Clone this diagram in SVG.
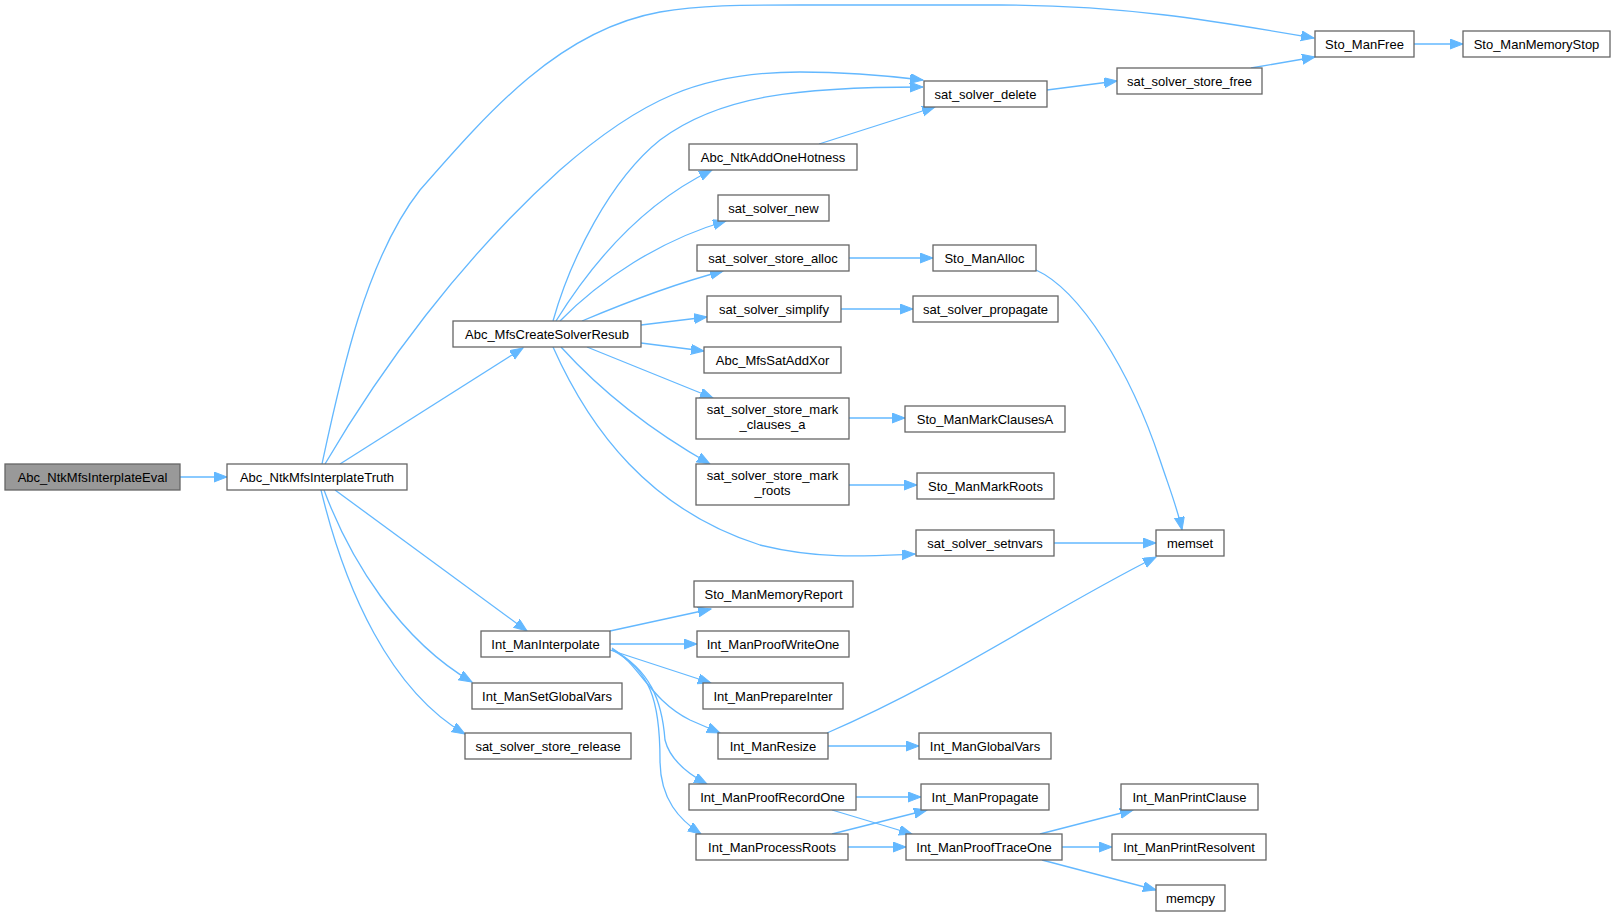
<svg xmlns="http://www.w3.org/2000/svg" width="1615" height="917" viewBox="0 0 1615 917">
<style>
.n rect{fill:#ffffff;stroke:#666666;stroke-width:1.3}
.n.root rect{fill:#999999}
.n text{font-family:"Liberation Sans",Arial,sans-serif;font-size:13px;fill:#000000;text-anchor:middle}
.e path{fill:none;stroke:#63b8ff;stroke-width:1.3;marker-end:url(#ah)}
</style>
<defs>
<marker id="ah" markerUnits="userSpaceOnUse" markerWidth="15" markerHeight="12" refX="13" refY="5" orient="auto">
<path d="M0,0 L13,5 L0,10 z" fill="#63b8ff" stroke="#63b8ff" stroke-width="1"/>
</marker>
</defs>
<rect width="1615" height="917" fill="#ffffff"/>
<g id="edges" class="e">
<path d="M180,477 L227,477"/>
<path d="M322,464 C340,380 365,260 420,190 C490,110 560,30 660,12 C700,5 740,5 800,5 L1000,5 C1120,5 1210,20 1314,38"/>
<path d="M325,464 C380,370 460,260 560,170 C640,100 700,72 800,72 C850,72 890,76 923,80"/>
<path d="M340,464 L523,348"/>
<path d="M335,490 L527,631"/>
<path d="M324,490 C350,560 400,640 472,682"/>
<path d="M321,490 C345,590 390,690 465,734"/>
<path d="M553,321 C570,260 610,180 660,140 C720,95 800,87 923,87"/>
<path d="M556,321 C600,250 650,200 712,170"/>
<path d="M560,321 C600,280 660,240 726,221"/>
<path d="M582,321 C620,305 670,285 723,271"/>
<path d="M641,325 L707,317"/>
<path d="M641,343 L704,351"/>
<path d="M587,347 L713,398"/>
<path d="M561,347 C600,390 650,430 710,464"/>
<path d="M553,347 C590,430 650,510 760,545 C820,560 870,556 915,554"/>
<path d="M819,144 L935,107"/>
<path d="M1047,90 L1117,81"/>
<path d="M1251,68 L1315,57"/>
<path d="M1414,44 L1463,44"/>
<path d="M849,258 L933,258"/>
<path d="M1036,270 C1080,290 1130,370 1160,460 C1170,490 1178,510 1182,530"/>
<path d="M841,309 L913,309"/>
<path d="M849,418 L905,418"/>
<path d="M849,485 L917,485"/>
<path d="M1054,543 L1156,543"/>
<path d="M610,631 L711,609"/>
<path d="M610,644 L697,644"/>
<path d="M610,650 L711,683"/>
<path d="M612,648 C640,665 650,700 690,720 L720,733"/>
<path d="M612,649 C650,670 662,700 665,740 C670,760 690,775 707,784"/>
<path d="M612,650 C650,670 660,700 660,760 C660,800 680,820 701,834"/>
<path d="M827,733 C950,680 1050,610 1156,557"/>
<path d="M828,746 L919,746"/>
<path d="M856,797 L921,797"/>
<path d="M832,810 L912,834"/>
<path d="M832,834 L927,810"/>
<path d="M848,847 L906,847"/>
<path d="M1040,834 L1133,810"/>
<path d="M1062,847 L1112,847"/>
<path d="M1042,860 L1156,890"/>
</g>
<g id="n1" class="n root"><rect x="5" y="464" width="175" height="26"/><text x="92.5" y="481.5">Abc_NtkMfsInterplateEval</text></g>
<g id="n2" class="n"><rect x="227" y="464" width="180" height="26"/><text x="317" y="481.5">Abc_NtkMfsInterplateTruth</text></g>
<g id="n3" class="n"><rect x="453" y="321" width="188" height="26"/><text x="547" y="338.5">Abc_MfsCreateSolverResub</text></g>
<g id="n4" class="n"><rect x="924" y="81" width="123" height="26"/><text x="985.5" y="98.5">sat_solver_delete</text></g>
<g id="n5" class="n"><rect x="1315" y="31" width="99" height="26"/><text x="1364.5" y="48.5">Sto_ManFree</text></g>
<g id="n6" class="n"><rect x="1463" y="31" width="147" height="26"/><text x="1536.5" y="48.5">Sto_ManMemoryStop</text></g>
<g id="n7" class="n"><rect x="1117" y="68" width="145" height="26"/><text x="1189.5" y="85.5">sat_solver_store_free</text></g>
<g id="n8" class="n"><rect x="689" y="144" width="168" height="26"/><text x="773" y="161.5">Abc_NtkAddOneHotness</text></g>
<g id="n9" class="n"><rect x="718" y="195" width="111" height="26"/><text x="773.5" y="212.5">sat_solver_new</text></g>
<g id="n10" class="n"><rect x="697" y="245" width="152" height="26"/><text x="773" y="262.5">sat_solver_store_alloc</text></g>
<g id="n11" class="n"><rect x="933" y="245" width="103" height="26"/><text x="984.5" y="262.5">Sto_ManAlloc</text></g>
<g id="n12" class="n"><rect x="707" y="296" width="134" height="26"/><text x="774" y="313.5">sat_solver_simplify</text></g>
<g id="n13" class="n"><rect x="913" y="296" width="145" height="26"/><text x="985.5" y="313.5">sat_solver_propagate</text></g>
<g id="n14" class="n"><rect x="704" y="347" width="137" height="26"/><text x="772.5" y="364.5">Abc_MfsSatAddXor</text></g>
<g id="n15" class="n"><rect x="696" y="398" width="153" height="41"/><text x="772.5" y="414">sat_solver_store_mark</text><text x="772.5" y="429">_clauses_a</text></g>
<g id="n16" class="n"><rect x="905" y="406" width="160" height="26"/><text x="985" y="423.5">Sto_ManMarkClausesA</text></g>
<g id="n17" class="n"><rect x="696" y="464" width="153" height="41"/><text x="772.5" y="480">sat_solver_store_mark</text><text x="772.5" y="495">_roots</text></g>
<g id="n18" class="n"><rect x="917" y="473" width="137" height="26"/><text x="985.5" y="490.5">Sto_ManMarkRoots</text></g>
<g id="n19" class="n"><rect x="916" y="530" width="138" height="26"/><text x="985" y="547.5">sat_solver_setnvars</text></g>
<g id="n20" class="n"><rect x="1156" y="530" width="68" height="26"/><text x="1190" y="547.5">memset</text></g>
<g id="n21" class="n"><rect x="694" y="581" width="159" height="26"/><text x="773.5" y="598.5">Sto_ManMemoryReport</text></g>
<g id="n22" class="n"><rect x="481" y="631" width="129" height="26"/><text x="545.5" y="648.5">Int_ManInterpolate</text></g>
<g id="n23" class="n"><rect x="697" y="631" width="152" height="26"/><text x="773" y="648.5">Int_ManProofWriteOne</text></g>
<g id="n24" class="n"><rect x="472" y="683" width="150" height="26"/><text x="547" y="700.5">Int_ManSetGlobalVars</text></g>
<g id="n25" class="n"><rect x="703" y="683" width="140" height="26"/><text x="773" y="700.5">Int_ManPrepareInter</text></g>
<g id="n26" class="n"><rect x="465" y="733" width="166" height="26"/><text x="548" y="750.5">sat_solver_store_release</text></g>
<g id="n27" class="n"><rect x="718" y="733" width="110" height="26"/><text x="773" y="750.5">Int_ManResize</text></g>
<g id="n28" class="n"><rect x="919" y="733" width="132" height="26"/><text x="985" y="750.5">Int_ManGlobalVars</text></g>
<g id="n29" class="n"><rect x="689" y="784" width="167" height="26"/><text x="772.5" y="801.5">Int_ManProofRecordOne</text></g>
<g id="n30" class="n"><rect x="921" y="784" width="128" height="26"/><text x="985" y="801.5">Int_ManPropagate</text></g>
<g id="n31" class="n"><rect x="1121" y="784" width="137" height="26"/><text x="1189.5" y="801.5">Int_ManPrintClause</text></g>
<g id="n32" class="n"><rect x="696" y="834" width="152" height="26"/><text x="772" y="851.5">Int_ManProcessRoots</text></g>
<g id="n33" class="n"><rect x="906" y="834" width="156" height="26"/><text x="984" y="851.5">Int_ManProofTraceOne</text></g>
<g id="n34" class="n"><rect x="1112" y="834" width="154" height="26"/><text x="1189" y="851.5">Int_ManPrintResolvent</text></g>
<g id="n35" class="n"><rect x="1156" y="885" width="69" height="26"/><text x="1190.5" y="902.5">memcpy</text></g>
</svg>
